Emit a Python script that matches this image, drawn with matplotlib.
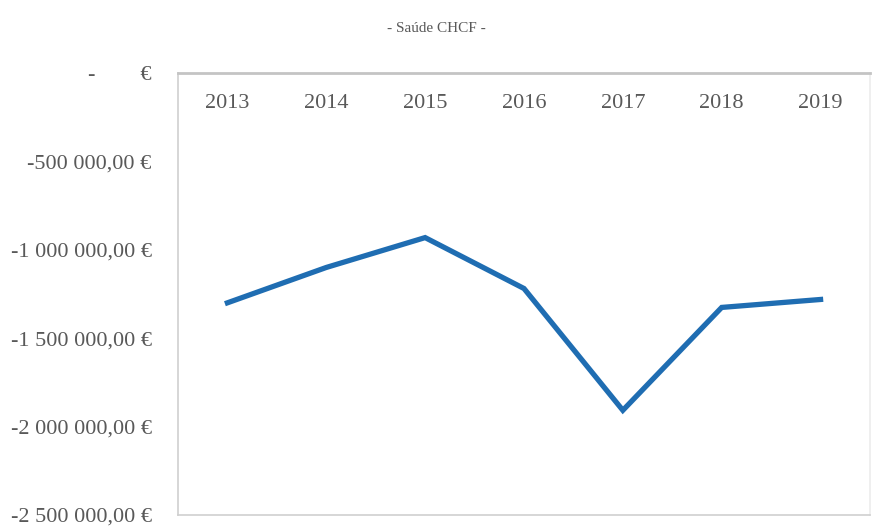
import matplotlib
matplotlib.use('Agg')
import matplotlib.pyplot as plt
from matplotlib.ticker import FuncFormatter
import numpy as np

# Dados do gráfico
anos = ['2013', '2014', '2015', '2016', '2017', '2018', '2019']
saldo = [-1300000, -1100000, -931000, -1219000, -1908000, -1326000, -1281000]
ticks_y = [0, -500000, -1000000, -1500000, -2000000, -2500000]

cor_texto = '#595959'
cor_linha = '#1f6db2'
cor_eixo = '#cfcfcf'

plt.rcParams['font.family'] = ['Liberation Serif', 'DejaVu Serif']


# Formato contabilístico do Excel: "-1 000 000,00 €"
def formata_euro(v, pos):
    if v == 0:
        return '-        €'
    s = '{:,.2f}'.format(abs(v)).replace(',', ' ').replace('.', ',')
    return ('-' if v < 0 else '') + s + ' €'


fig = plt.figure(figsize=(8.72, 5.27), dpi=100)
ax = fig.add_axes([0.2041, 0.0228, 0.7936, 0.8387])

x = np.arange(len(anos))
ax.plot(x, saldo, color=cor_linha, linewidth=3.8, solid_joinstyle='miter')

ax.set_xlim(-0.5, len(anos) - 0.5)
ax.set_ylim(-2500000, 0)
ax.set_yticks(ticks_y)
ax.yaxis.set_major_formatter(FuncFormatter(formata_euro))

# Eixo das categorias no topo (valores negativos), rótulos dentro da área
ax.set_xticks(x)
ax.set_xticklabels(anos)
ax.tick_params(axis='x', top=True, bottom=False, labeltop=True, labelbottom=False,
               length=0, pad=-29, labelsize=16, labelcolor=cor_texto)
ax.tick_params(axis='y', length=0, pad=19, labelsize=16, labelcolor=cor_texto)

for lado in ['left', 'bottom', 'right']:
    ax.spines[lado].set_color(cor_eixo)
    ax.spines[lado].set_linewidth(1.2)
ax.spines['top'].set_color('#c4c4c4')
ax.spines['top'].set_linewidth(2.0)
ax.spines['right'].set_color('#ececec')

fig.text(0.5, 1 - 28 / 527, '- Saúde CHCF -', ha='center', va='center',
         fontsize=11, color=cor_texto)

fig.savefig('out.png', dpi=100)
